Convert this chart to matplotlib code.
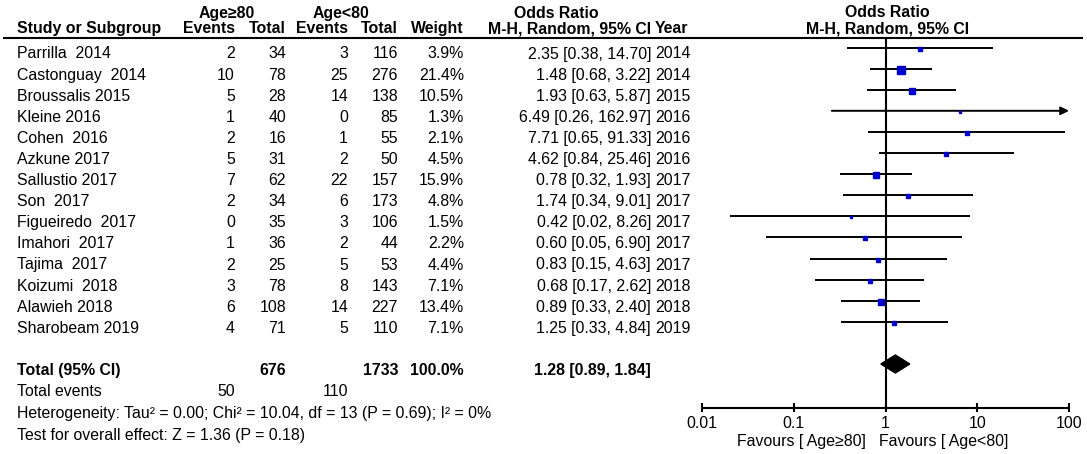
import matplotlib
matplotlib.use("Agg")
import matplotlib.pyplot as plt
from matplotlib.patches import Polygon

plt.rcParams['font.family'] = ['Liberation Sans', 'DejaVu Sans']

# study data
studies = ["Parrilla  2014", "Castonguay  2014", "Broussalis 2015", "Kleine 2016",
           "Cohen  2016", "Azkune 2017", "Sallustio 2017", "Son  2017",
           "Figueiredo  2017", "Imahori  2017", "Tajima  2017", "Koizumi  2018",
           "Alawieh 2018", "Sharobeam 2019"]
ev_old = [2, 10, 5, 1, 2, 5, 7, 2, 0, 1, 2, 3, 6, 4]
tot_old = [34, 78, 28, 40, 16, 31, 62, 34, 35, 36, 25, 78, 108, 71]
ev_young = [3, 25, 14, 0, 1, 2, 22, 6, 3, 2, 5, 8, 14, 5]
tot_young = [116, 276, 138, 85, 55, 50, 157, 173, 106, 44, 53, 143, 227, 110]
weights = [3.9, 21.4, 10.5, 1.3, 2.1, 4.5, 15.9, 4.8, 1.5, 2.2, 4.4, 7.1, 13.4, 7.1]
odds = [2.35, 1.48, 1.93, 6.49, 7.71, 4.62, 0.78, 1.74, 0.42, 0.60, 0.83, 0.68, 0.89, 1.25]
ci_lo = [0.38, 0.68, 0.63, 0.26, 0.65, 0.84, 0.32, 0.34, 0.02, 0.05, 0.15, 0.17, 0.33, 0.33]
ci_hi = [14.70, 3.22, 5.87, 162.97, 91.33, 25.46, 1.93, 9.01, 8.26, 6.90, 4.63, 2.62, 2.40, 4.84]
years = [2014, 2014, 2015, 2016, 2016, 2016, 2017, 2017, 2017, 2017, 2017, 2018, 2018, 2019]

total_old, total_young = 676, 1733
events_old, events_young = 50, 110
pooled = (1.28, 0.89, 1.84)
ticks = [0.01, 0.1, 1, 10, 100]

W, H = 1087, 454
fig = plt.figure(figsize=(W / 100, H / 100), dpi=100)

# text layer in pixel coords
ax = fig.add_axes([0, 0, 1, 1])
ax.set_xlim(0, W)
ax.set_ylim(H, 0)
ax.axis('off')

# forest layer: log x, same pixel y
fx0, fx1 = 702, 1069
fa = fig.add_axes([fx0 / W, 0, (fx1 - fx0) / W, 1])
fa.set_xscale('log')
fa.set_xlim(ticks[0], ticks[-1])
fa.set_ylim(H, 0)
fa.axis('off')

FS = 11.4
ROW0, STEP = 47.5, 21.1
BASE = 11  # baseline offset below the CI line


def row_y(i):
    return ROW0 + STEP * i


def txt(x, y, s, ha='left', bold=False):
    ax.text(x, y, s, ha=ha, va='baseline', fontsize=FS,
            fontweight='bold' if bold else 'normal')


# column anchors (pixels)
c_study, c_ev1, c_tot1, c_ev2, c_tot2 = 17, 235, 286, 348, 398
c_w, c_or, c_year = 464, 651, 655

# headers
txt(227, 18, "Age≥80", 'center', True)
txt(341, 18, "Age<80", 'center', True)
txt(556, 18, "Odds Ratio", 'center', True)
txt(887, 17, "Odds Ratio", 'center', True)
hy = 33
txt(c_study, hy, "Study or Subgroup", bold=True)
txt(c_ev1, hy, "Events", 'right', True)
txt(c_tot1, hy, "Total", 'right', True)
txt(c_ev2, hy, "Events", 'right', True)
txt(c_tot2, hy, "Total", 'right', True)
txt(c_w, hy, "Weight", 'right', True)
txt(c_or, hy, "M-H, Random, 95% CI", 'right', True)
txt(c_year, hy, "Year", bold=True)
txt(888, hy, "M-H, Random, 95% CI", 'center', True)
ax.hlines(37.5, 3, 1083, color='black', lw=1.5)

# study rows
for i in range(len(studies)):
    y = row_y(i)
    yb = y + BASE
    txt(c_study, yb, studies[i])
    txt(c_ev1, yb, str(ev_old[i]), 'right')
    txt(c_tot1, yb, str(tot_old[i]), 'right')
    txt(c_ev2, yb, str(ev_young[i]), 'right')
    txt(c_tot2, yb, str(tot_young[i]), 'right')
    txt(c_w, yb, f"{weights[i]:.1f}%", 'right')
    txt(c_or, yb, f"{odds[i]:.2f} [{ci_lo[i]:.2f}, {ci_hi[i]:.2f}]", 'right')
    txt(c_year, yb, str(years[i]))

    if ci_hi[i] > ticks[-1]:
        fa.annotate('', xy=(ticks[-1], y), xytext=(ci_lo[i], y),
                    arrowprops=dict(arrowstyle='-|>', lw=1.4, color='black',
                                    mutation_scale=12, shrinkA=0, shrinkB=0),
                    annotation_clip=False)
    else:
        fa.hlines(y, max(ci_lo[i], ticks[0]), ci_hi[i], color='black', lw=1.4,
                  clip_on=False)
    fa.plot(odds[i], y + 1, 's', color='#0000CC', mec='#0000CC',
            ms=0.8 + 0.95 * weights[i] ** 0.5, zorder=3)

# totals
ty = row_y(15)
tb = ty + BASE
txt(c_study, tb, "Total (95% CI)", bold=True)
txt(c_tot1, tb, str(total_old), 'right', True)
txt(c_tot2, tb, str(total_young), 'right', True)
txt(c_w, tb, "100.0%", 'right', True)
txt(c_or, tb, f"{pooled[0]:.2f} [{pooled[1]:.2f}, {pooled[2]:.2f}]", 'right', True)

dh = 9
diamond = Polygon([(pooled[1], ty), (pooled[0], ty - dh), (pooled[2], ty),
                   (pooled[0], ty + dh)], closed=True, color='black', zorder=3)
fa.add_patch(diamond)

txt(c_study, 396, "Total events")
txt(c_ev1, 396, str(events_old), 'right')
txt(c_ev2, 396, str(events_young), 'right')
txt(c_study, 418, "Heterogeneity: Tau² = 0.00; Chi² = 10.04, df = 13 (P = 0.69); I² = 0%")
txt(c_study, 440, "Test for overall effect: Z = 1.36 (P = 0.18)")

# forest axis
axis_y = 408
fa.vlines(1, 38, axis_y, color='black', lw=1.5, zorder=2)
fa.hlines(axis_y, ticks[0], ticks[-1], color='black', lw=1.5, clip_on=False)
for t in ticks:
    fa.vlines(t, axis_y - 5, axis_y + 4, color='black', lw=1.5, clip_on=False)
    fa.text(t, 428, f"{t:g}", ha='center', va='baseline', fontsize=FS)
txt(866, 446, "Favours [ Age≥80]", 'right')
txt(879, 446, "Favours [ Age<80]")

fig.savefig("out.png", dpi=100)
